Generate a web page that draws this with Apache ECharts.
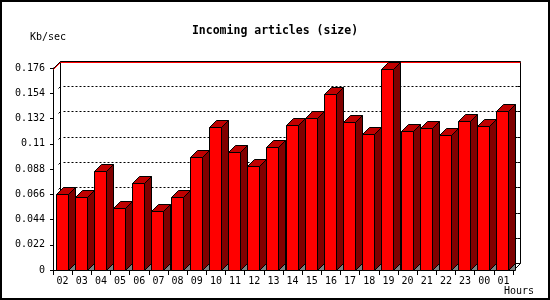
<!DOCTYPE html>
<html>
<head>
<meta charset="UTF-8">
<title>Incoming articles (size)</title>
<script src="https://cdn.jsdelivr.net/npm/echarts@6/dist/echarts.min.js"></script>
<style>
  html, body { margin: 0; padding: 0; background: #fff; }
  #main { width: 550px; height: 300px; }
</style>
</head>
<body>
<div id="main"></div>
<script>
// data
var hours = ['02','03','04','05','06','07','08','09','10','11','12','13',
             '14','15','16','17','18','19','20','21','22','23','00','01'];
var kbps = [0.066, 0.0634, 0.0863, 0.0538, 0.0756, 0.0512, 0.0634, 0.0983,
            0.1244, 0.1031, 0.0909, 0.107, 0.1262, 0.1323, 0.1532, 0.1288,
            0.1183, 0.175, 0.1209, 0.1235, 0.1174, 0.1296, 0.1253, 0.1384];
var yTicks = [0, 0.022, 0.044, 0.066, 0.088, 0.11, 0.132, 0.154, 0.176];

var DEPTH = 7;
var FONT = 'DejaVu Sans Mono';
var maxVal = Math.max.apply(null, kbps);

var myChart = echarts.init(document.getElementById('main'));

function px(v) { return Math.round(v) + 0.5; }

// back wall, floor edges and dotted grid lines
function renderFrame(params, api) {
    var cs = params.coordSys;
    var left = px(cs.x), right = px(cs.x + cs.width);
    var top = px(cs.y), bottom = px(cs.y + cs.height);
    var y = px(api.coord([0, api.value(1)])[1]);
    var d = DEPTH;
    var line = { stroke: '#000', lineWidth: 1 };
    var kids = [];
    var v = api.value(1);
    if (v > 0 && v < yTicks[yTicks.length - 1]) {
        kids.push({ type: 'line', shape: { x1: left + d + 3, y1: y - d, x2: right + d, y2: y - d },
                    style: { stroke: '#000', lineWidth: 1, lineDash: [2, 2] } });
        kids.push({ type: 'line', shape: { x1: left + d - 2, y1: y - d + 2, x2: left + d, y2: y - d }, style: line });
        kids.push({ type: 'line', shape: { x1: right + d - 3, y1: y - d, x2: right + d, y2: y - d }, style: line });
    }
    if (params.dataIndex === 0) {
        kids.push({ type: 'line', shape: { x1: left + d, y1: top - d, x2: left + d, y2: bottom - d }, style: line });
        kids.push({ type: 'line', shape: { x1: right + d, y1: top - d, x2: right + d, y2: bottom - d }, style: line });
        kids.push({ type: 'line', shape: { x1: left + d, y1: top - d, x2: right + d, y2: top - d }, style: line });
        kids.push({ type: 'line', shape: { x1: left + d, y1: bottom - d, x2: right + d, y2: bottom - d }, style: line });
        kids.push({ type: 'line', shape: { x1: left, y1: top, x2: left + d, y2: top - d }, style: line });
        kids.push({ type: 'line', shape: { x1: right, y1: bottom, x2: right + d, y2: bottom - d }, style: line });
    }
    return { type: 'group', children: kids };
}

// 3d bar: front face, top cap, side face and a bit of floor
function renderBar(params, api) {
    var p = api.coord([api.value(0), api.value(1)]);
    var base = px(api.coord([api.value(0), 0])[1]);
    var w = 12, d = DEPTH;
    var x0 = px(p[0] - 7);
    var y0 = px(p[1]);
    var edge = { stroke: '#000', lineWidth: 1 };
    return {
        type: 'group',
        children: [
            { type: 'polygon', shape: { points: [[x0 + w, base], [x0 + w + d, base - d], [x0 + w + d, base]] },
              style: Object.assign({ fill: '#808080' }, edge) },
            { type: 'polygon', shape: { points: [[x0 + w, y0], [x0 + w + d, y0 - d], [x0 + w + d, base - d], [x0 + w, base]] },
              style: Object.assign({ fill: '#800000' }, edge) },
            { type: 'polygon', shape: { points: [[x0, y0], [x0 + d, y0 - d], [x0 + w + d, y0 - d], [x0 + w, y0]] },
              style: Object.assign({ fill: '#c00000' }, edge) },
            { type: 'rect', shape: { x: x0, y: y0, width: w, height: base - y0 },
              style: Object.assign({ fill: '#ff0000' }, edge) }
        ]
    };
}

// red line at the maximum value
function renderMax(params, api) {
    var cs = params.coordSys;
    var left = px(cs.x), right = px(cs.x + cs.width);
    var y = px(api.coord([0, api.value(1)])[1]);
    var d = DEPTH;
    return {
        type: 'polyline',
        shape: { points: [[left, y], [left + d, y - d], [right + d, y - d]] },
        style: { stroke: '#ff0000', lineWidth: 1, fill: null }
    };
}

var option = {
    backgroundColor: '#fff',
    animation: false,
    title: {
        text: 'Incoming articles (size)',
        left: 'center',
        top: 20,
        textStyle: { fontFamily: FONT, fontSize: 11.5, fontWeight: 'bold', color: '#000' }
    },
    grid: { left: 53, right: 37, top: 68, bottom: 30 },
    xAxis: {
        type: 'category',
        data: hours,
        boundaryGap: true,
        axisLine: { lineStyle: { color: '#000', width: 1 } },
        axisTick: { show: true, interval: 0, length: 5, lineStyle: { color: '#000' } },
        axisLabel: { interval: 0, margin: 6, fontFamily: FONT, fontSize: 10, color: '#000' },
        splitLine: { show: false }
    },
    yAxis: {
        type: 'value',
        min: 0,
        max: 0.176,
        interval: 0.022,
        axisLine: { show: true, lineStyle: { color: '#000', width: 1 } },
        axisTick: { show: true, length: 3, lineStyle: { color: '#000' } },
        axisLabel: { margin: 8, fontFamily: FONT, fontSize: 10, color: '#000' },
        splitLine: { show: false }
    },
    graphic: [
        { type: 'rect', shape: { x: 1, y: 1, width: 548, height: 298 },
          style: { fill: null, stroke: '#000', lineWidth: 2 }, z: 100 },
        { type: 'text', left: 30, top: 32,
          style: { text: 'Kb/sec', fontFamily: FONT, fontSize: 10, fill: '#000' } },
        { type: 'text', left: 504, top: 286,
          style: { text: 'Hours', fontFamily: FONT, fontSize: 10, fill: '#000' } }
    ],
    series: [
        {
            name: 'frame',
            type: 'custom',
            renderItem: renderFrame,
            data: yTicks.map(function (v) { return [0, v]; }),
            encode: { x: 0, y: 1 },
            clip: false,
            silent: true,
            z: 1
        },
        {
            name: 'max',
            type: 'custom',
            renderItem: renderMax,
            data: [[0, maxVal]],
            encode: { x: 0, y: 1 },
            clip: false,
            silent: true,
            z: 2
        },
        {
            name: 'Kb/sec',
            type: 'custom',
            renderItem: renderBar,
            data: hours.map(function (h, i) { return [i, kbps[i]]; }),
            encode: { x: 0, y: 1 },
            clip: false,
            z: 3
        }
    ]
};

myChart.setOption(option);
</script>
</body>
</html>
